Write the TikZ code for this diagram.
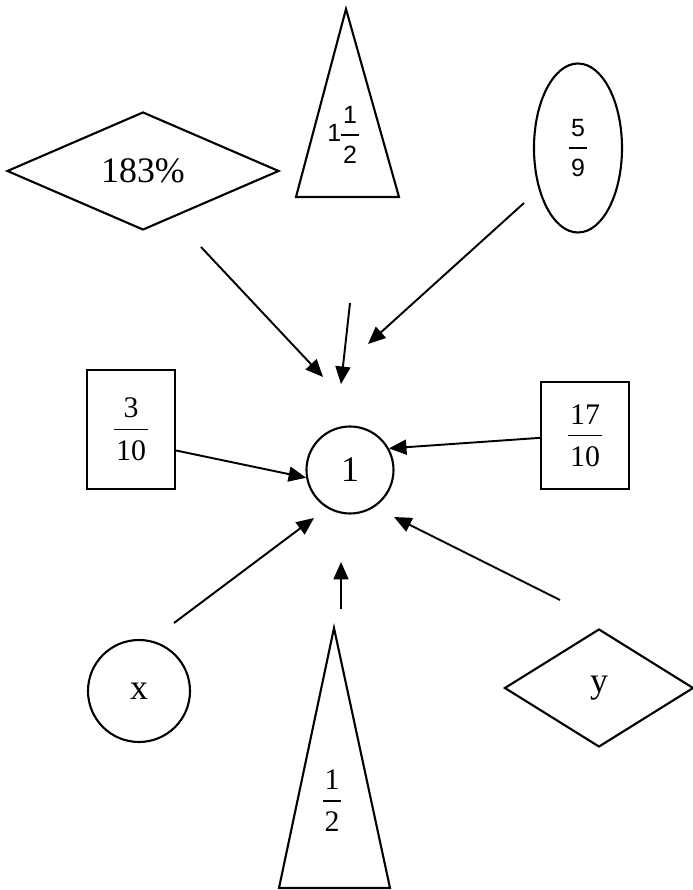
\documentclass[tikz,border=0pt]{standalone}
\usepackage{fontspec}
\setmainfont{Liberation Serif}
\newfontfamily\fracsans{Liberation Sans}
\usetikzlibrary{shapes.geometric}
\usetikzlibrary{arrows.meta}

\newcommand{\numfrac}[2]{\vbox{\halign{\hfil\kern1pt##\kern1pt\hfil\cr#1\cr\noalign{\kern6pt\hrule height0.8pt\kern6pt}#2\cr}}}

\begin{document}
\begin{tikzpicture}[>={Triangle[length=0.35cm, width=0.3cm]}]
            \tikzstyle{token} = [draw, line width=1.2pt, inner sep=0pt]
            \tikzstyle{pointer} = [line width=1.1pt]
            \tikzstyle{big} = [font=\fontsize{20.4}{24}\selectfont]
            \tikzstyle{serif frac} = [font=\fontsize{17}{20}\selectfont]
            \tikzstyle{sans frac} = [font=\fracsans\fontsize{14.2}{17}\selectfont]
            \useasboundingbox (0, 0) rectangle (13.86, 17.8);
            \node[token, diamond, big, minimum width=5.44cm, minimum height=2.36cm] (pct) at (2.86, 14.38) {183\%};
            \draw[line width=1.2pt] (6.92, 17.62) -- (5.92, 13.86) -- (7.98, 13.86) -- cycle;
            \node[sans frac] (mixed) at (6.86, 15.10) {1$\vcenter{\numfrac{1}{2}}$};
            \node[token, ellipse, sans frac, minimum width=1.76cm, minimum height=3.38cm] (ninths) at (11.56, 14.84) {\numfrac{5}{9}};
            \node[token, rectangle, serif frac, minimum width=1.76cm, minimum height=2.38cm] (tenths) at (2.62, 9.21) {\numfrac{3}{10}};
            \node[token, circle, big, minimum size=1.74cm] (one) at (7.00, 8.40) {1};
            \node[token, rectangle, serif frac, minimum width=1.76cm, minimum height=2.14cm] (seventeen) at (11.70, 9.09) {\numfrac{17}{10}};
            \node[token, circle, big, minimum size=2.04cm] (xvar) at (2.78, 3.98) {x};
            \draw[line width=1.2pt] (6.68, 5.24) -- (5.58, 0.04) -- (7.80, 0.04) -- cycle;
            \node[serif frac] (half) at (6.64, 1.78) {\numfrac{1}{2}};
            \node[token, diamond, big, minimum width=3.78cm, minimum height=2.36cm] (yvar) at (11.98, 4.04) {y};
            \coordinate (pct-tail) at (4.02, 12.86);
            \coordinate (pct-tip) at (6.46, 10.26);
            \coordinate (mixed-tail) at (7.00, 11.74);
            \coordinate (mixed-tip) at (6.82, 10.12);
            \coordinate (ninths-tail) at (10.48, 13.74);
            \coordinate (ninths-tip) at (7.36, 10.92);
            \coordinate (xvar-tail) at (3.48, 5.34);
            \coordinate (xvar-tip) at (6.28, 7.44);
            \coordinate (half-tail) at (6.82, 5.62);
            \coordinate (half-tip) at (6.82, 6.56);
            \coordinate (yvar-tail) at (11.20, 5.80);
            \coordinate (yvar-tip) at (7.88, 7.46);
            \draw[pointer, ->] (pct-tail) -- (pct-tip);
            \draw[pointer, ->] (mixed-tail) -- (mixed-tip);
            \draw[pointer, ->] (ninths-tail) -- (ninths-tip);
            \draw[pointer, ->] (tenths.-25) -- (one.190);
            \draw[pointer, ->] (seventeen.183) -- (one.29);
            \draw[pointer, ->] (xvar-tail) -- (xvar-tip);
            \draw[pointer, ->] (half-tail) -- (half-tip);
            \draw[pointer, ->] (yvar-tail) -- (yvar-tip);
\end{tikzpicture}
\end{document}
